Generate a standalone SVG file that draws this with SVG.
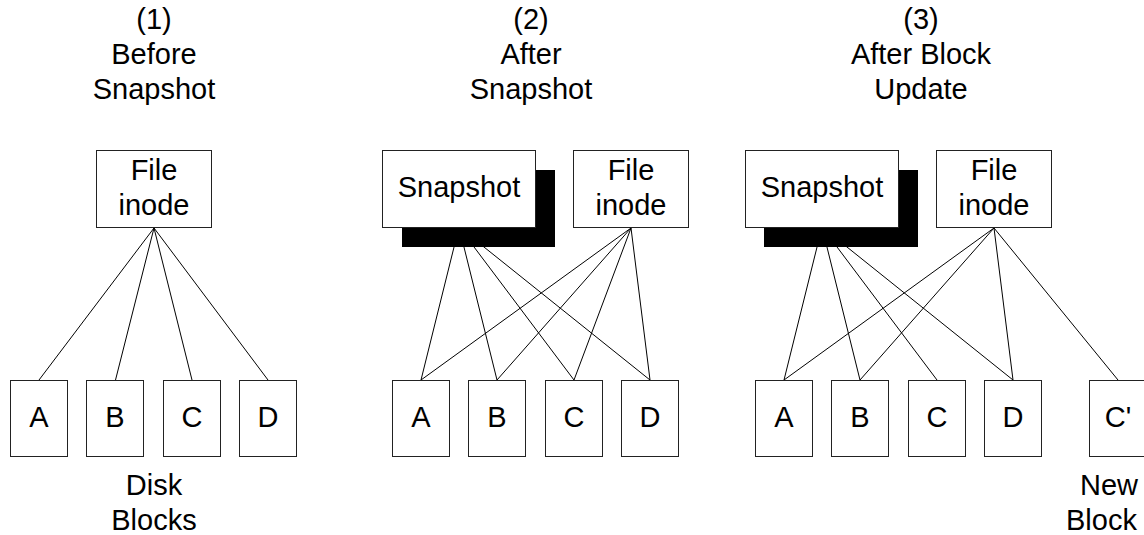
<svg xmlns="http://www.w3.org/2000/svg" width="1144" height="535" viewBox="0 0 1144 535">
  <style>
    text { font-family: "Liberation Sans", Arial, sans-serif; font-size: 29px; fill: #000; text-anchor: middle; }
    .box { fill: #fff; stroke: #222; stroke-width: 1; }
    .shadow { fill: #000; stroke: none; }
    .link { stroke: #000; stroke-width: 1; fill: none; }
  </style>
  <rect width="1144" height="535" fill="#fff"/>

  <!-- panel captions -->
  <g id="captions">
    <text x="154" y="29">(1)</text>
    <text x="154" y="64">Before</text>
    <text x="154" y="99">Snapshot</text>
    <text x="531" y="29">(2)</text>
    <text x="531" y="64">After</text>
    <text x="531" y="99">Snapshot</text>
    <text x="921" y="29">(3)</text>
    <text x="921" y="64">After Block</text>
    <text x="921" y="99">Update</text>
    <text x="154" y="495">Disk</text>
    <text x="154" y="530">Blocks</text>
    <text x="1109" y="495">New</text>
    <text x="1066" y="530" style="text-anchor:start">Block</text>
  </g>

  <!-- pointers from inodes/snapshots to disk blocks -->
  <g id="connectors">
    <line class="link" x1="154" y1="228" x2="39" y2="380"/>
    <line class="link" x1="154" y1="228" x2="115.5" y2="380"/>
    <line class="link" x1="154" y1="228" x2="192" y2="380"/>
    <line class="link" x1="154" y1="228" x2="268" y2="380"/>

    <line class="link" x1="459" y1="227" x2="421" y2="380"/>
    <line class="link" x1="459" y1="227" x2="497" y2="380"/>
    <line class="link" x1="459" y1="227" x2="574" y2="380"/>
    <line class="link" x1="459" y1="227" x2="650" y2="380"/>
    <line class="link" x1="631" y1="228" x2="421" y2="380"/>
    <line class="link" x1="631" y1="228" x2="497" y2="380"/>
    <line class="link" x1="631" y1="228" x2="574" y2="380"/>
    <line class="link" x1="631" y1="228" x2="650" y2="380"/>

    <line class="link" x1="822" y1="227" x2="784" y2="380"/>
    <line class="link" x1="822" y1="227" x2="860" y2="380"/>
    <line class="link" x1="822" y1="227" x2="937" y2="380"/>
    <line class="link" x1="822" y1="227" x2="1013" y2="380"/>
    <line class="link" x1="994" y1="228" x2="784" y2="380"/>
    <line class="link" x1="994" y1="228" x2="860" y2="380"/>
    <line class="link" x1="994" y1="228" x2="1013" y2="380"/>
    <line class="link" x1="994" y1="228" x2="1118" y2="380"/>
  </g>

  <!-- panel 1 -->
  <g id="p1-inode">
    <rect class="box" x="96.5" y="150.5" width="115" height="77"/>
    <text x="154" y="180">File</text>
    <text x="154" y="215">inode</text>
  </g>
  <g id="p1-A"><rect class="box" x="10.5" y="380.5" width="57" height="76"/><text x="39" y="427">A</text></g>
  <g id="p1-B"><rect class="box" x="86.5" y="380.5" width="57" height="76"/><text x="115" y="427">B</text></g>
  <g id="p1-C"><rect class="box" x="163.5" y="380.5" width="57" height="76"/><text x="192" y="427">C</text></g>
  <g id="p1-D"><rect class="box" x="239.5" y="380.5" width="57" height="76"/><text x="268" y="427">D</text></g>

  <!-- panel 2 -->
  <g id="p2-snapshot">
    <rect class="shadow" x="402" y="170" width="153" height="77"/>
    <rect class="box" x="382.5" y="150.5" width="153" height="77"/>
    <text x="459" y="197">Snapshot</text>
  </g>
  <g id="p2-inode">
    <rect class="box" x="573.5" y="150.5" width="115" height="77"/>
    <text x="631" y="180">File</text>
    <text x="631" y="215">inode</text>
  </g>
  <g id="p2-A"><rect class="box" x="392.5" y="380.5" width="57" height="76"/><text x="421" y="427">A</text></g>
  <g id="p2-B"><rect class="box" x="468.5" y="380.5" width="57" height="76"/><text x="497" y="427">B</text></g>
  <g id="p2-C"><rect class="box" x="545.5" y="380.5" width="57" height="76"/><text x="574" y="427">C</text></g>
  <g id="p2-D"><rect class="box" x="621.5" y="380.5" width="57" height="76"/><text x="650" y="427">D</text></g>

  <!-- panel 3 -->
  <g id="p3-snapshot">
    <rect class="shadow" x="764" y="170" width="154" height="77"/>
    <rect class="box" x="745.5" y="150.5" width="153" height="77"/>
    <text x="822" y="197">Snapshot</text>
  </g>
  <g id="p3-inode">
    <rect class="box" x="936.5" y="150.5" width="115" height="77"/>
    <text x="994" y="180">File</text>
    <text x="994" y="215">inode</text>
  </g>
  <g id="p3-A"><rect class="box" x="755.5" y="380.5" width="57" height="76"/><text x="784" y="427">A</text></g>
  <g id="p3-B"><rect class="box" x="831.5" y="380.5" width="57" height="76"/><text x="860" y="427">B</text></g>
  <g id="p3-C"><rect class="box" x="908.5" y="380.5" width="57" height="76"/><text x="937" y="427">C</text></g>
  <g id="p3-D"><rect class="box" x="984.5" y="380.5" width="57" height="76"/><text x="1013" y="427">D</text></g>
  <g id="p3-Cprime"><rect class="box" x="1089.5" y="380.5" width="58" height="76"/><text x="1118" y="427">C'</text></g>
</svg>
